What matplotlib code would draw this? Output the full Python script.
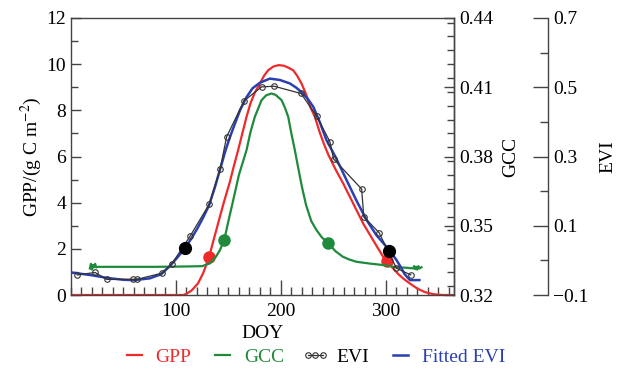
import matplotlib
matplotlib.use('Agg')
import matplotlib.pyplot as plt
from matplotlib.ticker import MultipleLocator, FixedLocator, FuncFormatter

plt.rcParams['font.family'] = ['Liberation Serif', 'DejaVu Serif']
plt.rcParams['mathtext.fontset'] = 'stix'

# GPP (left axis)
gpp_doy = [0, 50, 100, 107, 110, 115, 121, 126, 131.7, 136, 141.9, 146, 151.4, 155, 159.3,
           163, 167.3, 171, 175, 180, 184, 188, 193, 198, 203, 207, 211.7, 215.5, 219.7,
           224, 228, 232.4, 237, 241, 245, 252, 259.3, 268, 278.4, 288, 297.4, 301.2, 306,
           312, 317, 322.9, 330, 337, 343, 348, 355, 365]
gpp_val = [0, 0, 0, 0, 0.05, 0.2, 0.5, 0.95, 1.66, 2.4, 3.39, 4.07, 4.9, 5.55, 6.28,
           6.95, 7.72, 8.3, 8.75, 9.16, 9.5, 9.74, 9.9, 9.96, 9.93, 9.85, 9.74, 9.5, 9.16,
           8.7, 8.15, 7.72, 7.05, 6.55, 6.1, 5.45, 4.84, 4.05, 3.1, 2.37, 1.66, 1.49, 1.2,
           0.9, 0.7, 0.5, 0.28, 0.13, 0.06, 0.02, 0, 0]

# GCC (first right axis)
gcc_doy = [18, 19, 20, 21, 22, 23, 24, 26, 40, 60, 80, 100, 115, 125, 132.4, 138, 142, 146,
           150, 154.6, 160, 167.3, 171, 175.2, 181.6, 186, 191, 195, 200.7, 204, 207, 210,
           213.3, 217, 220, 224, 229, 234, 239, 244.5, 252, 259, 265, 272, 285, 297, 310,
           320, 326, 327, 328, 329, 330, 331, 332, 334]
gcc_val = [0.3315, 0.3335, 0.3310, 0.3330, 0.3320, 0.3335, 0.3320, 0.3322, 0.3322, 0.3322,
           0.3322, 0.3323, 0.3324, 0.3325, 0.3337, 0.3365, 0.3395, 0.3438, 0.3520, 0.3611,
           0.3720, 0.3828, 0.3905, 0.3972, 0.4044, 0.4065, 0.4073, 0.4067, 0.4044, 0.4010,
           0.3972, 0.3900, 0.3828, 0.3740, 0.3670, 0.3590, 0.3520, 0.3481, 0.3450, 0.3427,
           0.3390, 0.3366, 0.3354, 0.3344, 0.3336, 0.3330, 0.3320, 0.3318, 0.3315, 0.3325,
           0.3312, 0.3322, 0.3310, 0.3325, 0.3315, 0.3320]

# EVI observations (second right axis)
evi_doy = [6, 22.9, 34, 58.8, 62.6, 86.4, 95.9, 113.3, 131.7, 142.2, 148.3, 165, 181.6,
           193.5, 219.2, 234, 246.7, 250.2, 277, 279, 293.6, 310.2, 323.8]
evi_val = [-0.042, -0.035, -0.055, -0.055, -0.055, -0.037, -0.011, 0.069, 0.162, 0.265,
           0.357, 0.461, 0.501, 0.503, 0.482, 0.417, 0.343, 0.293, 0.206, 0.126, 0.080,
           -0.023, -0.042]

# fitted EVI
fit_doy = [0, 20, 35, 50, 60, 75, 86, 94, 101, 108.6, 114, 120, 126, 131.7, 137, 142, 147,
           151, 155, 161, 167, 173, 180, 189.5, 199, 208.6, 215, 221, 226, 231, 237, 243.5,
           252, 262.6, 272, 281.6, 291, 300.7, 306, 310, 314, 318, 323, 332]
fit_val = [-0.035, -0.043, -0.051, -0.056, -0.057, -0.052, -0.040, -0.017, 0.007, 0.035,
           0.060, 0.090, 0.124, 0.160, 0.210, 0.262, 0.315, 0.352, 0.385, 0.433, 0.470,
           0.497, 0.513, 0.525, 0.521, 0.511, 0.498, 0.482, 0.465, 0.443, 0.400, 0.347,
           0.299, 0.232, 0.173, 0.117, 0.073, 0.039, 0.018, 0.002, -0.018, -0.040, -0.057,
           -0.057]

# phenology transition dates
gpp_pts_doy = [131.7, 301.2]
gpp_pts_val = [1.66, 1.49]
gcc_pts_doy = [146, 244.5]
gcc_pts_val = [0.3438, 0.3427]
evi_pts_doy = [108.6, 303]
evi_pts_val = [0.035, 0.028]

c_red = '#ee2a2a'
c_green = '#1f8a3c'
c_blue = '#2b3fb2'
c_spine = '#444444'

fig = plt.figure(figsize=(6.26, 3.69), dpi=100)
ax = fig.add_axes([71 / 626, 1 - 295 / 369, 383 / 626, 277 / 369])
ax_gcc = ax.twinx()
ax_evi = ax.twinx()
ax_evi.spines['right'].set_position(('axes', (548 - 71) / 383))

l_gpp, = ax.plot(gpp_doy, gpp_val, color=c_red, lw=1.6, label='GPP')
ax.plot(gpp_pts_doy, gpp_pts_val, 'o', color=c_red, ms=8, zorder=5)
l_gcc, = ax_gcc.plot(gcc_doy, gcc_val, color=c_green, lw=1.6, label='GCC')
ax_gcc.plot(gcc_pts_doy, gcc_pts_val, 'o', color=c_green, ms=8, zorder=5)
l_fit, = ax_evi.plot(fit_doy, fit_val, color=c_blue, lw=1.8, label='Fitted EVI')
l_evi, = ax_evi.plot(evi_doy, evi_val, color='#333333', lw=0.9, marker='o', ms=4,
                     mfc='none', mec='#333333', mew=0.8, label='EVI')
ax_evi.plot(evi_pts_doy, evi_pts_val, 'o', color='black', ms=8.5, zorder=5)

ax.set_xlim(0, 365)
ax.set_ylim(0, 12)
ax_gcc.set_ylim(0.32, 0.44)
ax_evi.set_ylim(-0.1, 0.7)

ax.set_xticks([100, 200, 300])
ax.xaxis.set_minor_locator(MultipleLocator(10))
ax.set_yticks(range(0, 13, 2))
ax.yaxis.set_minor_locator(MultipleLocator(1))
ax_gcc.yaxis.set_major_locator(FixedLocator([0.32, 0.35, 0.38, 0.41, 0.44]))
ax_gcc.yaxis.set_minor_locator(MultipleLocator(0.006))
ax_gcc.yaxis.set_major_formatter(FuncFormatter(lambda v, p: f'{v:.2f}'))
ax_evi.yaxis.set_major_locator(FixedLocator([-0.1, 0.1, 0.3, 0.5, 0.7]))
ax_evi.yaxis.set_minor_locator(MultipleLocator(0.1))
ax_evi.yaxis.set_major_formatter(FuncFormatter(lambda v, p: f'{v:.1f}'.replace('-', '\u2212')))

ax.tick_params(axis='x', which='major', direction='in', length=11, width=1, color=c_spine,
               labelsize=14, pad=6, top=False)
ax.tick_params(axis='x', which='minor', direction='in', length=6, width=1, color=c_spine, top=False)
ax.tick_params(axis='y', which='major', direction='in', length=7, width=1, color=c_spine,
               labelsize=14, right=False)
ax.tick_params(axis='y', which='minor', direction='in', length=5, width=1, color=c_spine, right=False)
ax_gcc.tick_params(axis='y', which='major', direction='in', length=7, width=1, color=c_spine,
                   labelsize=14)
ax_gcc.tick_params(axis='y', which='minor', direction='in', length=5, width=1, color=c_spine)
ax_evi.tick_params(axis='y', which='major', direction='in', length=11, width=1, color=c_spine,
                   labelsize=14)
ax_evi.tick_params(axis='y', which='minor', direction='in', length=6, width=1, color=c_spine)

for a in [ax, ax_gcc, ax_evi]:
    for s in a.spines.values():
        s.set_color(c_spine)
        s.set_linewidth(1)
for s in ['top', 'bottom', 'left']:
    ax_gcc.spines[s].set_visible(False)
    ax_evi.spines[s].set_visible(False)

ax.set_xlabel('DOY', fontsize=14, labelpad=3)
ax.set_ylabel('GPP/(g C m$^{-2}$)', fontsize=14, labelpad=2)
ax_gcc.set_ylabel('GCC', fontsize=14, labelpad=7)
ax_evi.set_ylabel('EVI', fontsize=14, labelpad=8)

leg = fig.legend([l_gpp, l_gcc, l_evi, l_fit], ['GPP', 'GCC', 'EVI', 'Fitted EVI'],
                 loc='center', bbox_to_anchor=(0.5, 1 - 357 / 369), ncol=4, frameon=False,
                 fontsize=14, handlelength=1.4, handletextpad=0.4, columnspacing=0.9,
                 numpoints=3)
for txt, col in zip(leg.get_texts(), [c_red, c_green, 'black', c_blue]):
    txt.set_color(col)

fig.savefig('out.png', dpi=100)
